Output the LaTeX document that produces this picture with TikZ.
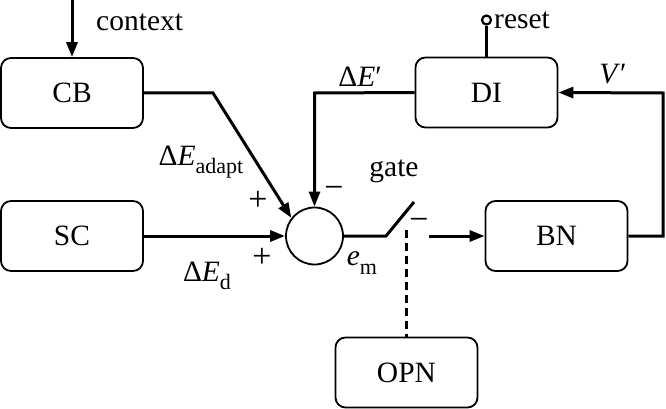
\documentclass[tikz,border=0pt]{standalone}
\usepackage{fontspec}
\setmainfont{Liberation Serif}
\usetikzlibrary{arrows.meta}
\newcommand{\mysub}[1]{\raisebox{-0.28em}{\fontsize{22}{24}\selectfont #1}}
\begin{document}
\begin{tikzpicture}[x=1pt,y=-1pt,
  blk/.style={draw,line width=1.8pt,rounded corners=10pt,minimum width=142pt,minimum height=70pt,inner sep=0pt,font=\fontsize{29.5}{32}\selectfont},
  lbl/.style={inner sep=0pt,font=\fontsize{29.5}{32}\selectfont},
  sgn/.style={inner sep=0pt,font=\fontsize{34}{36}\selectfont},
  sig/.style={line width=3pt,-{Triangle[length=15pt,width=11pt]}},
  wire/.style={line width=3pt}]
\useasboundingbox (0,0) rectangle (666,409);
\node[blk] (CB) at (72,93) {CB};
\node[blk] (SC) at (72,236) {SC};
\node[blk] (DI) at (486.5,92.5) {DI};
\node[blk] (BN) at (556.5,236) {BN};
\node[blk] (OPN) at (406.5,372.5) {OPN};
\node[draw,circle,line width=1.8pt,minimum size=57pt,inner sep=0pt] (S) at (314.5,236) {};
\coordinate (ctx) at (72,0);
\coordinate (k1) at (213,93);
\coordinate (k2) at (314.5,93);
\coordinate (k3) at (663,236);
\coordinate (k4) at (663,93);
\coordinate (sw1) at (386,236);
\coordinate (sw2) at (414,202);
\coordinate (sw3) at (429,236);
\coordinate (dash) at (406.5,230);
\coordinate (rs) at (486.5,20);
\draw[sig] (ctx) -- (CB.north);
\draw[sig] (CB.east) -- (k1) -- (S.142);
\draw[sig] (SC.east) -- (S.west);
\draw[sig] (DI.west) -- (k2) -- (S.north);
\draw[sig] (BN.east) -- (k3) -- (k4) -- (DI.east);
\draw[wire] (S.east) -- (sw1) -- (sw2);
\draw[sig] (sw3) -- (BN.west);
\draw[line width=3pt,dash pattern=on 8pt off 5pt] (dash) -- (OPN.north);
\node[draw,circle,line width=2.2pt,minimum size=9pt,inner sep=0pt] (rc) at (rs) {};
\draw[wire] (DI.north) -- (rc.south);
\node[lbl,anchor=west] (tctx) at (96,22) {context};
\node[lbl,anchor=west] (treset) at (494,20) {reset};
\node[lbl] (tad) at (201,162) {Δ\textit{E}\mysub{adapt}};
\node[lbl] (td) at (207,276) {Δ\textit{E}\mysub{d}};
\node[lbl] (tdp) at (360,77) {Δ\textit{E}′};
\node[lbl] (tv) at (613,74) {\textit{V}′};
\node[lbl] (tgate) at (394,171) {gate};
\node[lbl] (tem) at (362,263) {\textit{e}\mysub{m}};
\node[sgn] (p1) at (258,201) {+};
\node[sgn] (p2) at (262,258) {+};
\node[sgn] (m1) at (334,192) {−};
\node[sgn] (m2) at (419,224) {−};
\end{tikzpicture}
\end{document}
